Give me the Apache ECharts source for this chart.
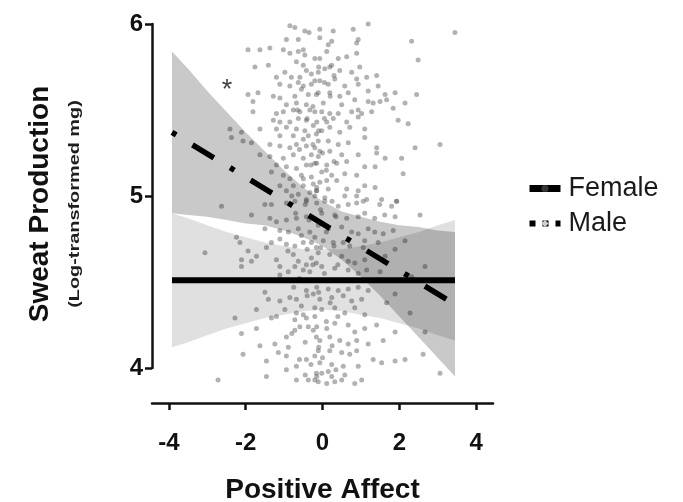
<!DOCTYPE html>
<html><head><meta charset="utf-8">
<script src="https://cdn.jsdelivr.net/npm/echarts@6/dist/echarts.min.js"></script>
<style>html,body{margin:0;padding:0;background:#fff}#c{width:683px;height:502px}</style>
</head><body><div id="c"></div>
<script>
// ---- data ----
const xTicks = [-4, -2, 0, 2, 4];
const yTicks = [4, 5, 6];
const seriesNames = ['Female', 'Male'];

const femaleLine = [[-3.92, 4.51], [3.45, 4.51]];
const maleLine = [[-3.92, 5.37], [3.45, 4.37]];

const bandX      = [-3.92, -3.5, -3, -2.5, -2, -1.5, -1, -0.5, 0, 0.5, 1, 1.5, 2, 2.5, 3, 3.45];
const femaleLow  = [4.12, 4.15, 4.19, 4.23, 4.26, 4.29, 4.31, 4.33, 4.34, 4.33, 4.31, 4.29, 4.26, 4.23, 4.19, 4.16];
const femaleHigh = [4.90, 4.87, 4.83, 4.79, 4.76, 4.73, 4.71, 4.69, 4.69, 4.69, 4.71, 4.73, 4.76, 4.79, 4.83, 4.86];
const maleLow    = [4.90, 4.89, 4.88, 4.86, 4.84, 4.83, 4.80, 4.76, 4.71, 4.63, 4.53, 4.42, 4.30, 4.18, 4.06, 3.95];
const maleHigh   = [5.84, 5.74, 5.61, 5.49, 5.37, 5.26, 5.15, 5.05, 4.97, 4.91, 4.88, 4.85, 4.83, 4.82, 4.80, 4.79];

const asteriskAt = [[-2.49, 5.645]];

const points = [
[-0.85,5.99],[-0.72,5.98],[-0.46,5.96],[-0.94,5.91],[-0.63,5.91],[-1.94,5.85],[-1.63,5.85],[-1.37,5.86],[-1.02,5.85],[-0.85,5.83],
[-0.63,5.84],[-0.46,5.82],[-1.76,5.75],[-1.41,5.76],[-0.98,5.72],[-0.68,5.78],[-0.50,5.76],[-0.42,5.73],[-0.29,5.71],[-0.59,5.69],
[-1.20,5.69],[-0.81,5.69],[-1.11,5.65],[-0.85,5.64],[-0.63,5.66],[-0.50,5.64],[-0.29,5.65],[-0.20,5.67],[-1.94,5.59],[-1.68,5.60],
[-1.81,5.55],[-1.28,5.58],[-1.11,5.57],[-0.72,5.58],[-0.37,5.59],[-0.16,5.59],[-0.94,5.53],[-0.68,5.54],[-0.42,5.53],[-1.81,5.49],
[-1.20,5.48],[-1.02,5.49],[-0.76,5.50],[-0.59,5.49],[-0.33,5.50],[-0.20,5.49],[-1.28,5.44],[-1.11,5.43],[-0.85,5.43],[-0.63,5.45],
[-0.42,5.44],[-1.63,5.39],[-1.20,5.39],[-0.94,5.40],[-0.68,5.39],[-0.46,5.38],[-0.24,5.41],[-1.11,5.35],[-0.76,5.35],[-0.50,5.33],
[-0.37,5.35],[-0.16,5.36],[-2.41,5.39],[-2.11,5.37],[-2.37,5.34],[-2.07,5.32],[-1.85,5.31],[-1.37,5.30],[-1.11,5.29],[-0.85,5.28],
[-0.68,5.30],[-0.42,5.29],[-0.20,5.28],[-1.63,5.24],[-1.37,5.23],[-1.02,5.22],[-0.76,5.24],[-0.50,5.22],[-0.29,5.24],[-0.11,5.23],
[-1.20,5.18],[-0.94,5.17],[-0.68,5.16],[-0.42,5.18],[-0.20,5.19],[-1.33,5.14],[-1.02,5.12],[-0.85,5.10],[-0.55,5.12],[-0.29,5.11],
[-1.11,5.06],[-0.76,5.06],[-0.50,5.06],[-0.24,5.07],[-0.94,5.03],[-0.63,5.01],[-0.33,5.02],[-0.16,5.03],[-0.42,4.98],[-0.72,4.97],
[-0.07,5.97],[0.28,5.96],[0.80,5.97],[1.19,6.00],[-0.07,5.92],[0.24,5.90],[0.89,5.89],[0.93,5.91],[0.11,5.84],[0.41,5.80],
[-0.07,5.80],[0.63,5.81],[0.89,5.83],[2.32,5.90],[2.49,5.79],[3.45,5.95],[0.24,5.76],[0.06,5.74],[0.19,5.75],[-0.11,5.72],
[0.45,5.73],[0.76,5.72],[0.97,5.75],[0.32,5.68],[-0.07,5.67],[0.89,5.68],[1.15,5.69],[1.41,5.70],[0.15,5.65],[0.58,5.64],
[0.93,5.65],[1.45,5.64],[-0.11,5.60],[0.19,5.60],[0.45,5.58],[0.67,5.60],[1.19,5.61],[1.63,5.59],[1.89,5.60],[2.45,5.59],
[0.02,5.54],[0.50,5.53],[0.84,5.56],[1.19,5.55],[1.32,5.54],[1.50,5.55],[1.67,5.56],[2.15,5.54],[-0.02,5.49],[0.19,5.48],
[0.41,5.48],[0.76,5.49],[0.93,5.50],[1.02,5.48],[1.28,5.49],[1.84,5.51],[-0.15,5.43],[0.11,5.43],[0.28,5.45],[0.63,5.43],
[0.93,5.46],[1.97,5.44],[2.23,5.42],[-0.02,5.38],[0.19,5.40],[0.45,5.37],[0.71,5.40],[1.10,5.39],[-0.11,5.32],[0.15,5.32],
[0.41,5.30],[0.67,5.31],[1.10,5.34],[1.41,5.28],[2.41,5.28],[3.06,5.30],[-0.07,5.26],[0.19,5.26],[0.50,5.24],[0.93,5.24],
[1.41,5.25],[1.63,5.22],[2.06,5.22],[-0.15,5.19],[0.11,5.18],[0.37,5.19],[0.63,5.20],[1.10,5.17],[1.37,5.17],[2.10,5.13],
[-0.02,5.14],[0.24,5.12],[0.58,5.13],[0.89,5.12],[-0.07,5.08],[0.11,5.09],[0.37,5.09],[0.15,5.04],[0.63,5.04],[0.93,5.03],
[1.10,5.06],[1.37,5.05],[-0.15,5.03],[-0.20,5.00],[0.06,4.99],[0.58,5.00],[0.89,5.00],[1.15,4.98],[1.54,4.98],[1.93,4.97],
[-2.63,4.94],[-1.50,4.95],[-1.33,4.95],[-0.94,4.96],[-0.42,4.97],[-1.85,4.89],[-1.37,4.87],[-1.20,4.85],[-0.94,4.86],[-0.68,4.87],
[-0.42,4.88],[-1.50,4.81],[-1.11,4.80],[-0.89,4.79],[-0.63,4.81],[-0.33,4.79],[-2.24,4.76],[-2.15,4.73],[-1.33,4.73],[-1.11,4.75],
[-0.94,4.72],[-0.72,4.71],[-0.50,4.73],[-0.29,4.73],[-0.16,4.70],[-3.06,4.67],[-1.94,4.68],[-2.11,4.63],[-1.85,4.62],[-1.72,4.65],
[-2.11,4.59],[-1.46,4.70],[-1.20,4.63],[-1.11,4.59],[-0.76,4.66],[-0.63,4.62],[-0.42,4.60],[-0.29,4.64],[-0.16,4.61],[-0.89,4.56],
[-0.72,4.59],[-0.50,4.57],[-0.33,4.56],[-1.11,4.54],[-1.50,4.44],[-1.41,4.40],[-1.11,4.39],[-0.85,4.41],[-0.68,4.40],[-0.42,4.45],
[-0.24,4.43],[-1.72,4.34],[-2.28,4.29],[-1.33,4.29],[-1.20,4.30],[-0.98,4.34],[-0.68,4.32],[-0.50,4.31],[-0.72,4.28],[-0.42,4.29],
[-0.20,4.35],[-2.11,4.20],[-1.72,4.23],[-1.24,4.14],[-1.63,4.13],[-0.94,4.18],[-0.72,4.22],[-0.59,4.24],[-0.37,4.24],[-0.24,4.22],
[-0.16,4.18],[-0.89,4.12],[-1.46,4.04],[-1.15,4.09],[-2.07,4.08],[-0.94,4.07],[-0.68,4.01],[-0.42,4.05],[-0.20,4.07],[-0.16,3.97],
[-0.94,3.99],[-1.46,3.95],[-0.68,3.93],[-0.37,3.93],[-0.20,3.93],[-2.72,3.93],
[-0.15,4.96],[0.06,4.97],[0.41,4.94],[0.67,4.95],[0.89,4.96],[1.06,4.97],[1.49,4.95],[1.80,4.94],[1.93,4.97],[2.54,4.89],
[-0.02,4.90],[0.32,4.89],[0.63,4.87],[0.93,4.88],[1.10,4.90],[1.36,4.87],[1.62,4.89],[1.89,4.88],[-0.11,4.83],[0.15,4.81],
[0.50,4.82],[0.76,4.79],[0.93,4.78],[1.19,4.81],[1.36,4.79],[1.58,4.78],[1.84,4.80],[2.15,4.74],[0.02,4.74],[0.28,4.73],
[0.54,4.73],[0.71,4.71],[1.06,4.70],[1.10,4.74],[1.45,4.73],[-0.11,4.67],[0.19,4.66],[0.50,4.65],[0.67,4.62],[0.84,4.61],
[1.10,4.63],[1.63,4.65],[1.89,4.69],[2.67,4.59],[-0.02,4.59],[0.32,4.58],[0.67,4.57],[0.93,4.55],[1.15,4.57],[1.50,4.56],
[-0.15,4.47],[0.15,4.46],[0.41,4.45],[0.67,4.46],[0.93,4.47],[1.19,4.45],[1.89,4.43],[2.32,4.53],[-0.07,4.40],[0.24,4.41],
[0.54,4.42],[0.76,4.39],[1.02,4.40],[1.67,4.38],[2.28,4.32],[-0.02,4.34],[0.32,4.35],[0.58,4.32],[0.84,4.35],[1.10,4.31],
[-0.15,4.24],[0.11,4.23],[0.32,4.26],[0.67,4.25],[0.84,4.21],[1.10,4.23],[1.41,4.25],[1.89,4.21],[2.67,4.21],[-0.07,4.16],
[0.19,4.18],[0.45,4.16],[0.67,4.14],[0.89,4.16],[1.19,4.14],[1.58,4.16],[-0.11,4.10],[0.19,4.10],[0.50,4.09],[0.71,4.08],
[0.89,4.10],[1.32,4.05],[1.54,4.03],[1.89,4.04],[2.15,4.05],[2.62,4.08],[3.06,3.97],[-0.07,4.03],[0.24,4.02],[0.54,4.01],
[0.93,4.01],[-0.02,3.97],[0.24,3.95],[0.58,3.96],[1.02,3.93],[0.32,3.92],[0.50,3.93],[0.84,3.91],[0.11,3.91],[-0.11,3.92],
[-0.55,5.62],[-0.25,5.52],[0.05,5.66],[-0.40,5.45],[-0.10,5.38],[0.20,5.58],[-0.60,5.27],[-0.30,5.18],[0.00,5.25],[0.30,5.20],
[-0.50,5.10],[-0.15,5.05],[0.10,5.15],[-0.80,5.00],[-0.45,4.95],[-0.05,4.92],[0.25,4.97],[-0.70,4.90],[-0.35,4.86],[0.00,4.84],
[0.35,4.88],[-0.55,4.77],[-0.20,4.76],[0.10,4.79],[-0.90,4.68],[-0.40,4.69],[-0.05,4.70],[0.30,4.71],[-0.60,4.52],[-0.25,4.60],
[0.05,4.55],[0.40,4.60],[-0.75,4.47],[-0.40,4.42],[-0.10,4.44],[0.20,4.38],[-0.55,4.36],[-0.20,4.30],[0.10,4.27],[0.40,4.30],
[-0.80,4.20],[-0.45,4.15],[-0.10,4.12],[0.25,4.13],[-0.60,4.05],[-0.30,4.02],[0.00,4.06],[0.35,3.99],[-0.45,3.96],[-0.15,3.95],
[0.15,3.98],[-0.50,5.85],[-0.20,5.80],[0.15,5.88],[-0.35,5.95],[-0.10,5.75],[0.30,5.70],[-0.65,5.50],[-0.25,5.30],[0.05,5.45]
];

// ---- chart ----
const FONT = '"Liberation Sans", Arial, Helvetica, sans-serif';
const chart = echarts.init(document.getElementById('c'), null, {renderer: 'canvas'});

function band(name, lo, hi, fill) {
  return {
    name: name, type: 'custom', coordinateSystem: 'cartesian2d', silent: true, clip: false, z: 3,
    data: bandX.map((x, i) => [x, lo[i], hi[i]]),
    encode: {x: 0, y: [1, 2]},
    renderItem: function (params, api) {
      if (params.dataIndex !== 0) return null;
      const pts = [];
      for (let i = 0; i < bandX.length; i++) pts.push(api.coord([bandX[i], hi[i]]));
      for (let i = bandX.length - 1; i >= 0; i--) pts.push(api.coord([bandX[i], lo[i]]));
      return {type: 'polygon', shape: {points: pts}, style: {fill: fill}};
    }
  };
}

chart.setOption({
  animation: false,
  backgroundColor: '#fff',
  grid: {left: 152, right: 190, top: 24, bottom: 134, containLabel: false, outerBoundsMode: 'none'},
  xAxis: {
    type: 'value', min: -4.44, max: 4.44, offset: 35,
    axisLine: {onZero: false, lineStyle: {color: '#111', width: 2.5}},
    axisTick: {show: true, customValues: xTicks, length: 7, lineStyle: {color: '#111', width: 2.5}},
    axisLabel: {customValues: xTicks, margin: 28, color: '#111', fontFamily: FONT, fontWeight: 'bold', fontSize: 24},
    splitLine: {show: false},
    name: 'Positive Affect', nameLocation: 'middle', nameGap: 73,
    nameTextStyle: {color: '#111', fontFamily: FONT, fontWeight: 'bold', fontSize: 28}
  },
  yAxis: {
    type: 'value', min: yTicks[0], max: yTicks[yTicks.length - 1], interval: 1,
    axisLine: {onZero: false, lineStyle: {color: '#111', width: 2.5}},
    axisTick: {show: true, length: 7, lineStyle: {color: '#111', width: 2.5}},
    axisLabel: {margin: 9, color: '#111', fontFamily: FONT, fontWeight: 'bold', fontSize: 24},
    splitLine: {show: false}
  },
  legend: {
    orient: 'vertical', left: 526, top: 174, itemWidth: 31, itemHeight: 9, itemGap: 6, padding: 0,
    selectedMode: false,
    textStyle: {color: '#1a1a1a', fontFamily: FONT, fontSize: 27, lineHeight: 29, padding: [0, 0, 0, 3]},
    data: [
      {name: seriesNames[0], lineStyle: {width: 7, type: 'solid'}, itemStyle: {color: '#9a9a9a', opacity: 0.35}},
      {name: seriesNames[1], lineStyle: {width: 6, type: [6, 7]}, itemStyle: {color: '#cfcfcf'}}
    ]
  },
  graphic: [
    {type: 'text', x: 40, y: 204, rotation: Math.PI / 2, silent: true,
     style: {text: 'Sweat Production', align: 'center', verticalAlign: 'middle', fill: '#111',
             font: 'bold 28px ' + FONT}},
    {type: 'text', x: 75, y: 204, rotation: Math.PI / 2, scaleX: 1.42, silent: true,
     style: {text: '(Log-transformed mg)', align: 'center', verticalAlign: 'middle', fill: '#1e1e1e',
             font: 'bold 14px ' + FONT}}
  ],
  series: [
    {name: 'points', type: 'scatter', data: points, symbolSize: 5, clip: false, silent: true, z: 2,
     itemStyle: {color: 'rgba(80,80,80,0.55)'}},
    band('Female CI', femaleLow, femaleHigh, 'rgba(0,0,0,0.12)'),
    band('Male CI', maleLow, maleHigh, 'rgba(0,0,0,0.21)'),
    {name: seriesNames[0], type: 'line', data: femaleLine, z: 5, silent: true,
     symbol: 'circle', showSymbol: false, itemStyle: {color: '#c8c8c8'},
     lineStyle: {color: '#000', width: 6, cap: 'butt'}},
    {name: seriesNames[1], type: 'line', data: maleLine, z: 5, silent: true,
     symbol: 'diamond', showSymbol: false, itemStyle: {color: '#c8c8c8'},
     lineStyle: {color: '#000', width: 5.5, type: [5, 19, 25, 19], cap: 'butt'}},
    {name: 'sig', type: 'scatter', data: asteriskAt, symbolSize: 1, silent: true, z: 6,
     itemStyle: {color: 'rgba(0,0,0,0)'},
     label: {show: true, formatter: '*', position: 'inside', offset: [0, 5], color: '#111',
             fontFamily: FONT, fontSize: 27}}
  ]
});
</script></body></html>
